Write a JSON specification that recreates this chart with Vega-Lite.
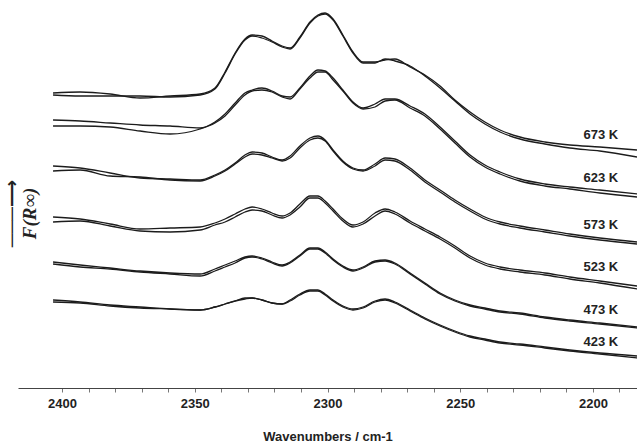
{
  "$schema": "https://vega.github.io/schema/vega-lite/v6.json",
  "width": 619,
  "height": 388,
  "autosize": {"type": "none"},
  "padding": {"left": 18, "top": 0, "right": 0, "bottom": 59},
  "background": "white",
  "config": {"view": {"stroke": null}},
  "datasets": {
    "spectra": [
      {"w":2403.4,"a673":295,"b673":293,"a623":268,"b623":262,"a573":222,"b573":217,"a523":171,"b523":166,"a473":126,"b473":124,"a423":88,"b423":86},
      {"w":2393.2,"a673":296,"b673":292,"a623":267,"b623":262,"a573":220,"b573":218,"a523":169,"b523":167,"a473":123,"b473":121,"a423":86,"b423":85},
      {"w":2381.9,"a673":294,"b673":292,"a623":265,"b623":261,"a573":215,"b573":212,"a523":164,"b523":162,"a473":120,"b473":119,"a423":83,"b423":82},
      {"w":2370.6,"a673":290,"b673":292,"a623":263,"b623":257,"a573":210,"b573":211,"a523":159,"b523":157,"a473":117,"b473":116,"a423":81,"b423":80},
      {"w":2359.3,"a673":292,"b673":291,"a623":262,"b623":254,"a573":209,"b573":208,"a523":160,"b523":156,"a473":115,"b473":114,"a423":79,"b423":79},
      {"w":2348.0,"a673":294,"b673":293,"a623":260,"b623":259,"a573":208,"b573":207,"a523":161,"b523":158,"a473":114,"b473":112,"a423":78,"b423":78},
      {"w":2342.4,"a673":300,"b673":299,"a623":266,"b623":265,"a573":213,"b573":212,"a523":165,"b523":163,"a473":119,"b473":117,"a423":81,"b423":81},
      {"w":2338.6,"a673":316,"b673":315,"a623":274,"b623":272,"a573":218,"b573":217,"a523":169,"b523":166,"a473":123,"b473":121,"a423":84,"b423":84},
      {"w":2334.8,"a673":335,"b673":334,"a623":285,"b623":283,"a573":225,"b573":224,"a523":174,"b523":171,"a473":127,"b473":125,"a423":87,"b423":87},
      {"w":2331.1,"a673":349,"b673":348,"a623":295,"b623":293,"a573":233,"b573":231,"a523":179,"b523":176,"a473":131,"b473":130,"a423":90,"b423":89},
      {"w":2328.4,"a673":353,"b673":352,"a623":298,"b623":297,"a573":236,"b573":234,"a523":181,"b523":178,"a473":132,"b473":131,"a423":90,"b423":90},
      {"w":2324.7,"a673":352,"b673":350,"a623":300,"b623":298,"a573":235,"b573":233,"a523":179,"b523":177,"a473":130,"b473":129,"a423":88,"b423":88},
      {"w":2320.9,"a673":347,"b673":346,"a623":297,"b623":296,"a573":231,"b573":230,"a523":175,"b523":173,"a473":126,"b473":125,"a423":85,"b423":85},
      {"w":2317.1,"a673":342,"b673":341,"a623":292,"b623":291,"a573":228,"b573":227,"a523":172,"b523":170,"a473":123,"b473":122,"a423":84,"b423":84},
      {"w":2314.1,"a673":340,"b673":339,"a623":291,"b623":289,"a573":232,"b573":230,"a523":175,"b523":173,"a473":126,"b473":125,"a423":88,"b423":87},
      {"w":2310.4,"a673":351,"b673":350,"a623":300,"b623":299,"a573":242,"b573":240,"a523":184,"b523":181,"a473":133,"b473":132,"a423":94,"b423":93},
      {"w":2306.6,"a673":366,"b673":365,"a623":312,"b623":310,"a573":250,"b573":248,"a523":192,"b523":190,"a473":140,"b473":139,"a423":98,"b423":97},
      {"w":2303.6,"a673":373,"b673":372,"a623":318,"b623":316,"a573":252,"b573":250,"a523":192,"b523":190,"a473":140,"b473":139,"a423":98,"b423":97},
      {"w":2300.9,"a673":375,"b673":374,"a623":317,"b623":316,"a573":248,"b573":247,"a523":187,"b523":185,"a473":136,"b473":135,"a423":94,"b423":93},
      {"w":2297.9,"a673":369,"b673":368,"a623":310,"b623":308,"a573":238,"b573":237,"a523":179,"b523":177,"a473":129,"b473":128,"a423":88,"b423":87},
      {"w":2294.2,"a673":353,"b673":352,"a623":298,"b623":297,"a573":227,"b573":226,"a523":169,"b523":167,"a473":122,"b473":121,"a423":82,"b423":81},
      {"w":2290.4,"a673":336,"b673":335,"a623":286,"b623":285,"a573":220,"b573":219,"a523":163,"b523":161,"a473":118,"b473":117,"a423":79,"b423":78},
      {"w":2286.6,"a673":326,"b673":325,"a623":280,"b623":279,"a573":218,"b573":217,"a523":166,"b523":164,"a473":121,"b473":120,"a423":81,"b423":80},
      {"w":2282.1,"a673":326,"b673":325,"a623":284,"b623":281,"a573":224,"b573":222,"a523":175,"b523":172,"a473":127,"b473":126,"a423":87,"b423":86},
      {"w":2278.3,"a673":328,"b673":329,"a623":289,"b623":287,"a573":230,"b573":228,"a523":179,"b523":177,"a473":128,"b473":127,"a423":89,"b423":88},
      {"w":2274.6,"a673":329,"b673":327,"a623":289,"b623":288,"a573":229,"b573":227,"a523":176,"b523":174,"a473":125,"b473":124,"a423":86,"b423":85},
      {"w":2268.9,"a673":321,"b673":322,"a623":282,"b623":280,"a573":220,"b573":218,"a523":167,"b523":165,"a473":115,"b473":114,"a423":78,"b423":77},
      {"w":2263.3,"a673":313,"b673":312,"a623":274,"b623":272,"a573":208,"b573":206,"a523":159,"b523":157,"a473":105,"b473":104,"a423":70,"b423":69},
      {"w":2257.6,"a673":302,"b673":300,"a623":261,"b623":259,"a573":198,"b573":196,"a523":151,"b523":149,"a473":95,"b473":94,"a423":63,"b423":62},
      {"w":2252.0,"a673":288,"b673":287,"a623":247,"b623":245,"a573":188,"b573":186,"a523":142,"b523":140,"a473":88,"b473":87,"a423":57,"b423":56},
      {"w":2246.3,"a673":276,"b673":274,"a623":233,"b623":231,"a573":179,"b573":177,"a523":132,"b523":130,"a473":83,"b473":82,"a423":52,"b423":51},
      {"w":2240.7,"a673":266,"b673":264,"a623":223,"b623":221,"a573":171,"b573":169,"a523":125,"b523":123,"a473":80,"b473":79,"a423":49,"b423":48},
      {"w":2235.0,"a673":258,"b673":256,"a623":216,"b623":214,"a573":166,"b573":164,"a523":121,"b523":119,"a473":77,"b473":76,"a423":46,"b423":45},
      {"w":2227.5,"a673":251,"b673":249,"a623":209,"b623":207,"a573":162,"b573":160,"a523":118,"b523":116,"a473":75,"b473":74,"a423":44,"b423":43},
      {"w":2218.1,"a673":246,"b673":244,"a623":204,"b623":202,"a573":158,"b573":156,"a523":115,"b523":113,"a473":71,"b473":70,"a423":41,"b423":40},
      {"w":2208.7,"a673":243,"b673":240,"a623":201,"b623":199,"a573":154,"b573":152,"a523":111,"b523":109,"a473":68,"b473":67,"a423":38,"b423":37},
      {"w":2197.4,"a673":241,"b673":237,"a623":198,"b623":195,"a573":150,"b573":148,"a523":107,"b523":105,"a473":65,"b473":64,"a423":35,"b423":34},
      {"w":2183.4,"a673":238,"b673":231,"a623":194,"b623":191,"a573":146,"b573":144,"a523":102,"b523":99,"a473":61,"b473":60,"a423":32,"b423":30}
    ],
    "labels": [
      {"w":2197,"F":253,"label":"673 K"},
      {"w":2197,"F":210,"label":"623 K"},
      {"w":2197,"F":163,"label":"573 K"},
      {"w":2197,"F":121,"label":"523 K"},
      {"w":2197,"F":78,"label":"473 K"},
      {"w":2197,"F":46,"label":"423 K"}
    ]
  },
  "layer": [
    {
      "data": {"name": "spectra"},
      "transform": [
        {"fold": ["a673","b673","a623","b623","a573","b573","a523","b523","a473","b473","a423","b423"], "as": ["trace","F"]}
      ],
      "mark": {"type": "line", "interpolate": "monotone", "stroke": "#1c1c1c", "strokeWidth": 1.3, "clip": true},
      "encoding": {
        "x": {
          "field": "w", "type": "quantitative",
          "scale": {"domain": [2183.4, 2416.6], "reverse": true, "nice": false, "zero": false},
          "axis": {
            "values": [2190,2200,2210,2220,2230,2240,2250,2260,2270,2280,2290,2300,2310,2320,2330,2340,2350,2360,2370,2380,2390,2400],
            "tickCount": 200,
            "labelExpr": "datum.value % 50 === 0 ? format(datum.value, 'd') : ''",
            "grid": false,
            "domainColor": "#444",
            "domainWidth": 1.2,
            "tickColor": "#777",
            "tickSize": 4,
            "tickWidth": 1,
            "labelFont": "Liberation Sans",
            "labelFontWeight": "bold",
            "labelFontSize": 13,
            "labelColor": "#222",
            "labelPadding": 5,
            "labelFlush": false,
            "labelOverlap": false,
            "title": "Wavenumbers / cm-1",
            "titleFont": "Liberation Sans",
            "titleFontWeight": "bold",
            "titleFontSize": 13,
            "titleColor": "#222",
            "titlePadding": 20
          }
        },
        "y": {
          "field": "F", "type": "quantitative",
          "scale": {"domain": [0, 388], "nice": false, "zero": false},
          "axis": {
            "domain": false,
            "ticks": false,
            "labels": false,
            "grid": false,
            "title": ["───⟶", "F(R∞)"],
            "titleFont": "Liberation Serif, DejaVu Sans",
            "titleFontStyle": "italic",
            "titleFontWeight": "bold",
            "titleFontSize": 19,
            "titleColor": "#222",
            "titleAngle": -90,
            "titleAlign": "center",
            "titleBaseline": "middle",
            "titleLineHeight": 18,
            "titleX": -7,
            "titleY": 213
          }
        },
        "detail": {"field": "trace"}
      }
    },
    {
      "data": {"name": "labels"},
      "mark": {"type": "text", "font": "Liberation Sans", "fontWeight": "bold", "fontSize": 13, "fill": "#222", "align": "center", "baseline": "middle"},
      "encoding": {
        "x": {"field": "w", "type": "quantitative"},
        "y": {"field": "F", "type": "quantitative"},
        "text": {"field": "label"}
      }
    }
  ]
}
